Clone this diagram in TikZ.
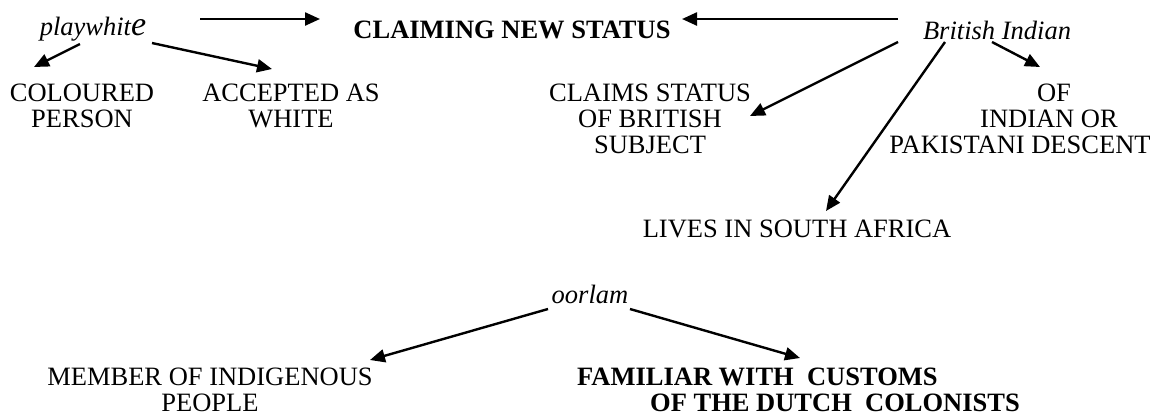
\documentclass[tikz,border=0pt]{standalone}
\usepackage{fontspec}
\setmainfont{Liberation Serif}
\usetikzlibrary{arrows.meta}
\begin{document}
\begin{tikzpicture}[x=1pt,y=-1pt,
  lbl/.style={inner sep=0pt, font=\fontsize{26.5}{26}\selectfont},
  term/.style={lbl, font=\fontsize{26.5}{26}\selectfont\itshape},
  head/.style={lbl, font=\fontsize{26.5}{26}\selectfont\bfseries},
  block/.style={lbl, align=center},
  arr/.style={line width=2.4pt, -{Triangle[length=15pt,width=13pt]}},
]
\path[use as bounding box] (0,0) rectangle (1159,416);

% terms and their glosses
\node[term, anchor=base] (pw) at (93,35) {playwhit{\fontsize{34}{34}\selectfont e}};
\node[head, anchor=base] (claim) at (512,38) {CLAIMING NEW STATUS};
\node[term, anchor=base] (bi) at (997,39) {British Indian};
\node[block] (col) at (82,106) {COLOURED\\PERSON};
\node[block] (acc) at (291,106) {ACCEPTED AS\\WHITE};
\node[block] (cs) at (650,119) {CLAIMS STATUS\\OF BRITISH\\SUBJECT};
\node[block] (desc) at (1020,119) {\hspace*{68pt}OF\\\hspace*{58pt}INDIAN OR\\PAKISTANI DESCENT};
\node[lbl, anchor=base] (lives) at (797,237) {LIVES IN SOUTH AFRICA};
\node[term, anchor=base] (oor) at (590,303) {oorlam};
\node[block] (mem) at (210,390) {MEMBER OF INDIGENOUS\\PEOPLE};
\node[head, align=left, anchor=west] (fam) at (577,390)
  {FAMILIAR WITH\ \ CUSTOMS\\\hspace*{73pt}OF THE DUTCH\ \ COLONISTS};

% connectors
\draw[arr] ([shift={(107,-16)}]pw.base) -- ([shift={(-192,-19)}]claim.base);
\draw[arr] ([shift={(-99,-20)}]bi.base) -- ([shift={(170,-19)}]claim.base);
\draw[arr] ([shift={(-99,3)}]bi.base) -- ([shift={(100,-3)}]cs.center);
\draw[arr] ([shift={(-5,3)}]bi.base) -- ([shift={(20,-52)}]desc.center);
\draw[arr] ([shift={(-52,3)}]bi.base) -- ([shift={(29,-26)}]lives.base);
\draw[arr] ([shift={(-13,9)}]pw.base) -- ([shift={(-48,-39)}]col.center);
\draw[arr] ([shift={(59,8)}]pw.base) -- ([shift={(-19,-37)}]acc.center);
\draw[arr] ([shift={(-42,6)}]oor.base) -- ([shift={(160,-30)}]mem.center);
\draw[arr] ([shift={(40,6)}]oor.base) -- ([shift={(223,-32)}]fam.west);
\end{tikzpicture}
\end{document}
